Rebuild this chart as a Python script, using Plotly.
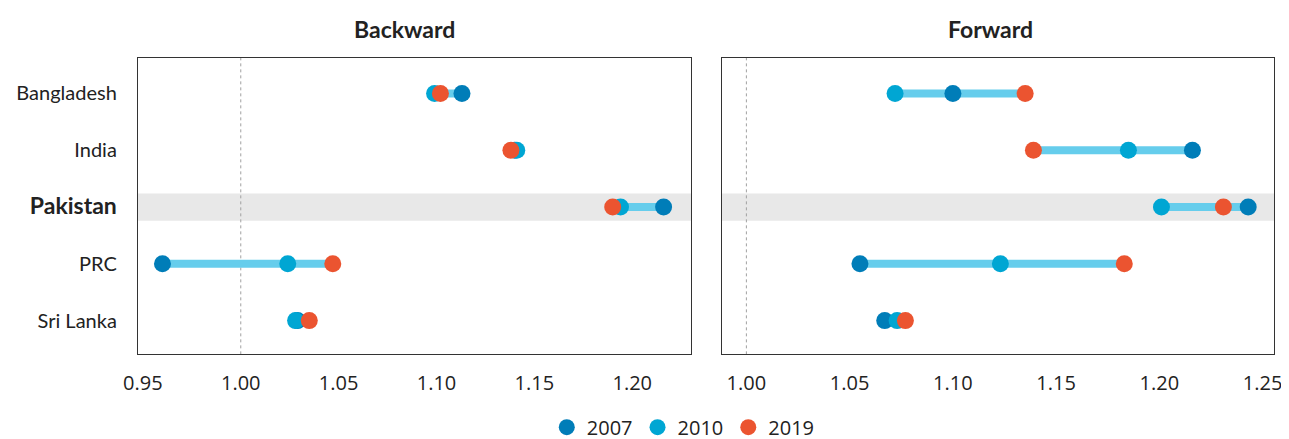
import plotly.graph_objects as go

countries = ["Bangladesh", "India", "Pakistan", "PRC", "Sri Lanka"]
years = ["2007", "2010", "2019"]

backward_2007 = [1.113, 1.140, 1.216, 0.960, 1.029]
backward_2010 = [1.099, 1.141, 1.194, 1.024, 1.028]
backward_2019 = [1.102, 1.138, 1.190, 1.047, 1.035]

forward_2007 = [1.100, 1.216, 1.243, 1.055, 1.067]
forward_2010 = [1.072, 1.185, 1.201, 1.123, 1.073]
forward_2019 = [1.135, 1.139, 1.231, 1.183, 1.077]

x_ticks_back = [0.95, 1.00, 1.05, 1.10, 1.15, 1.20]
x_ticks_fwd = [1.00, 1.05, 1.10, 1.15, 1.20, 1.25]

colors = {"2007": "#007DB8", "2010": "#00A6D3", "2019": "#EB5430"}
line_color = "#66CDEC"
highlight = "Pakistan"

fig = go.Figure()

panels = [
    ("x", "y", [backward_2007, backward_2010, backward_2019]),
    ("x2", "y2", [forward_2007, forward_2010, forward_2019]),
]

for pi, (xa, ya, series) in enumerate(panels):
    lx, ly = [], []
    for i, c in enumerate(countries):
        vals = [s[i] for s in series]
        lx += [min(vals), max(vals), None]
        ly += [c, c, None]
    fig.add_trace(go.Scatter(x=lx, y=ly, mode="lines", xaxis=xa, yaxis=ya,
                             line=dict(color=line_color, width=8),
                             showlegend=False, hoverinfo="skip"))
    for yr, s in zip(years, series):
        fig.add_trace(go.Scatter(x=s, y=countries, mode="markers", name=yr,
                                 xaxis=xa, yaxis=ya, legendgroup=yr,
                                 showlegend=(pi == 0),
                                 marker=dict(color=colors[yr], size=17,
                                             line=dict(width=0))))

ticktext = [f"<b><span style='font-size:23px'>{c}</span></b>" if c == highlight else c
            for c in countries]

hi = countries.index(highlight)
for xr, yr in [("x domain", "y"), ("x2 domain", "y2")]:
    fig.add_shape(type="rect", xref=xr, yref=yr, x0=0, x1=1, y0=hi - 0.24, y1=hi + 0.24,
                  fillcolor="#E8E8E8", line=dict(width=0), layer="below")
for xa, yd in [("x", "y domain"), ("x2", "y2 domain")]:
    fig.add_shape(type="line", xref=xa, yref=yd, x0=1.0, x1=1.0, y0=0, y1=1,
                  line=dict(color="#A0A0A0", width=1, dash="dot"), layer="below")

tick_font = dict(family="Open Sans, Noto Sans, sans-serif", size=20, color="#222222")
frame = dict(showgrid=False, zeroline=False, showline=True, mirror=True,
             linecolor="#333333", linewidth=1.3, ticks="")

H = 439
top = 50
plot_h = H - top
y_dom0 = (H - 351) / plot_h

fig.update_layout(
    width=1289, height=H,
    margin=dict(l=130, r=23, t=top, b=0),
    paper_bgcolor="white", plot_bgcolor="white",
    xaxis=dict(domain=[0, 0.4868], range=[0.9475, 1.23], tickvals=x_ticks_back,
               ticktext=[f"{v:.2f}" for v in x_ticks_back], anchor="y",
               tickfont=tick_font, ticklabelstandoff=10, automargin=False, **frame),
    xaxis2=dict(domain=[0.5141, 1], range=[0.9882, 1.2555], tickvals=x_ticks_fwd,
                ticktext=[f"{v:.2f}" for v in x_ticks_fwd], anchor="y2",
                tickfont=tick_font, ticklabelstandoff=10, automargin=False, **frame),
    yaxis=dict(domain=[y_dom0, 1], type="category", categoryorder="array",
               categoryarray=countries, range=[4.594, -0.624], tickvals=countries,
               ticktext=ticktext, anchor="x", automargin=False,
               tickfont=dict(family="Lato, sans-serif", size=20, color="#222222"),
               ticklabelstandoff=16, **frame),
    yaxis2=dict(domain=[y_dom0, 1], type="category", categoryorder="array",
                categoryarray=countries, range=[4.594, -0.624], anchor="x2",
                showticklabels=False, automargin=False, **frame),
    legend=dict(orientation="h", x=0.48, xanchor="center",
                y=(H - 425) / plot_h, yanchor="middle",
                font=tick_font, itemwidth=30, tracegroupgap=0,
                bgcolor="rgba(0,0,0,0)"),
    annotations=[
        dict(text="<b>Backward</b>", xref="x domain", yref="paper", x=0.5, y=1,
             yanchor="bottom", yshift=13, xshift=-10, showarrow=False,
             font=dict(family="Lato, sans-serif", size=23, color="#222222")),
        dict(text="<b>Forward</b>", xref="x2 domain", yref="paper", x=0.5, y=1,
             yanchor="bottom", yshift=13, xshift=-8, showarrow=False,
             font=dict(family="Lato, sans-serif", size=23, color="#222222")),
    ],
)

fig.write_html("out.html")
